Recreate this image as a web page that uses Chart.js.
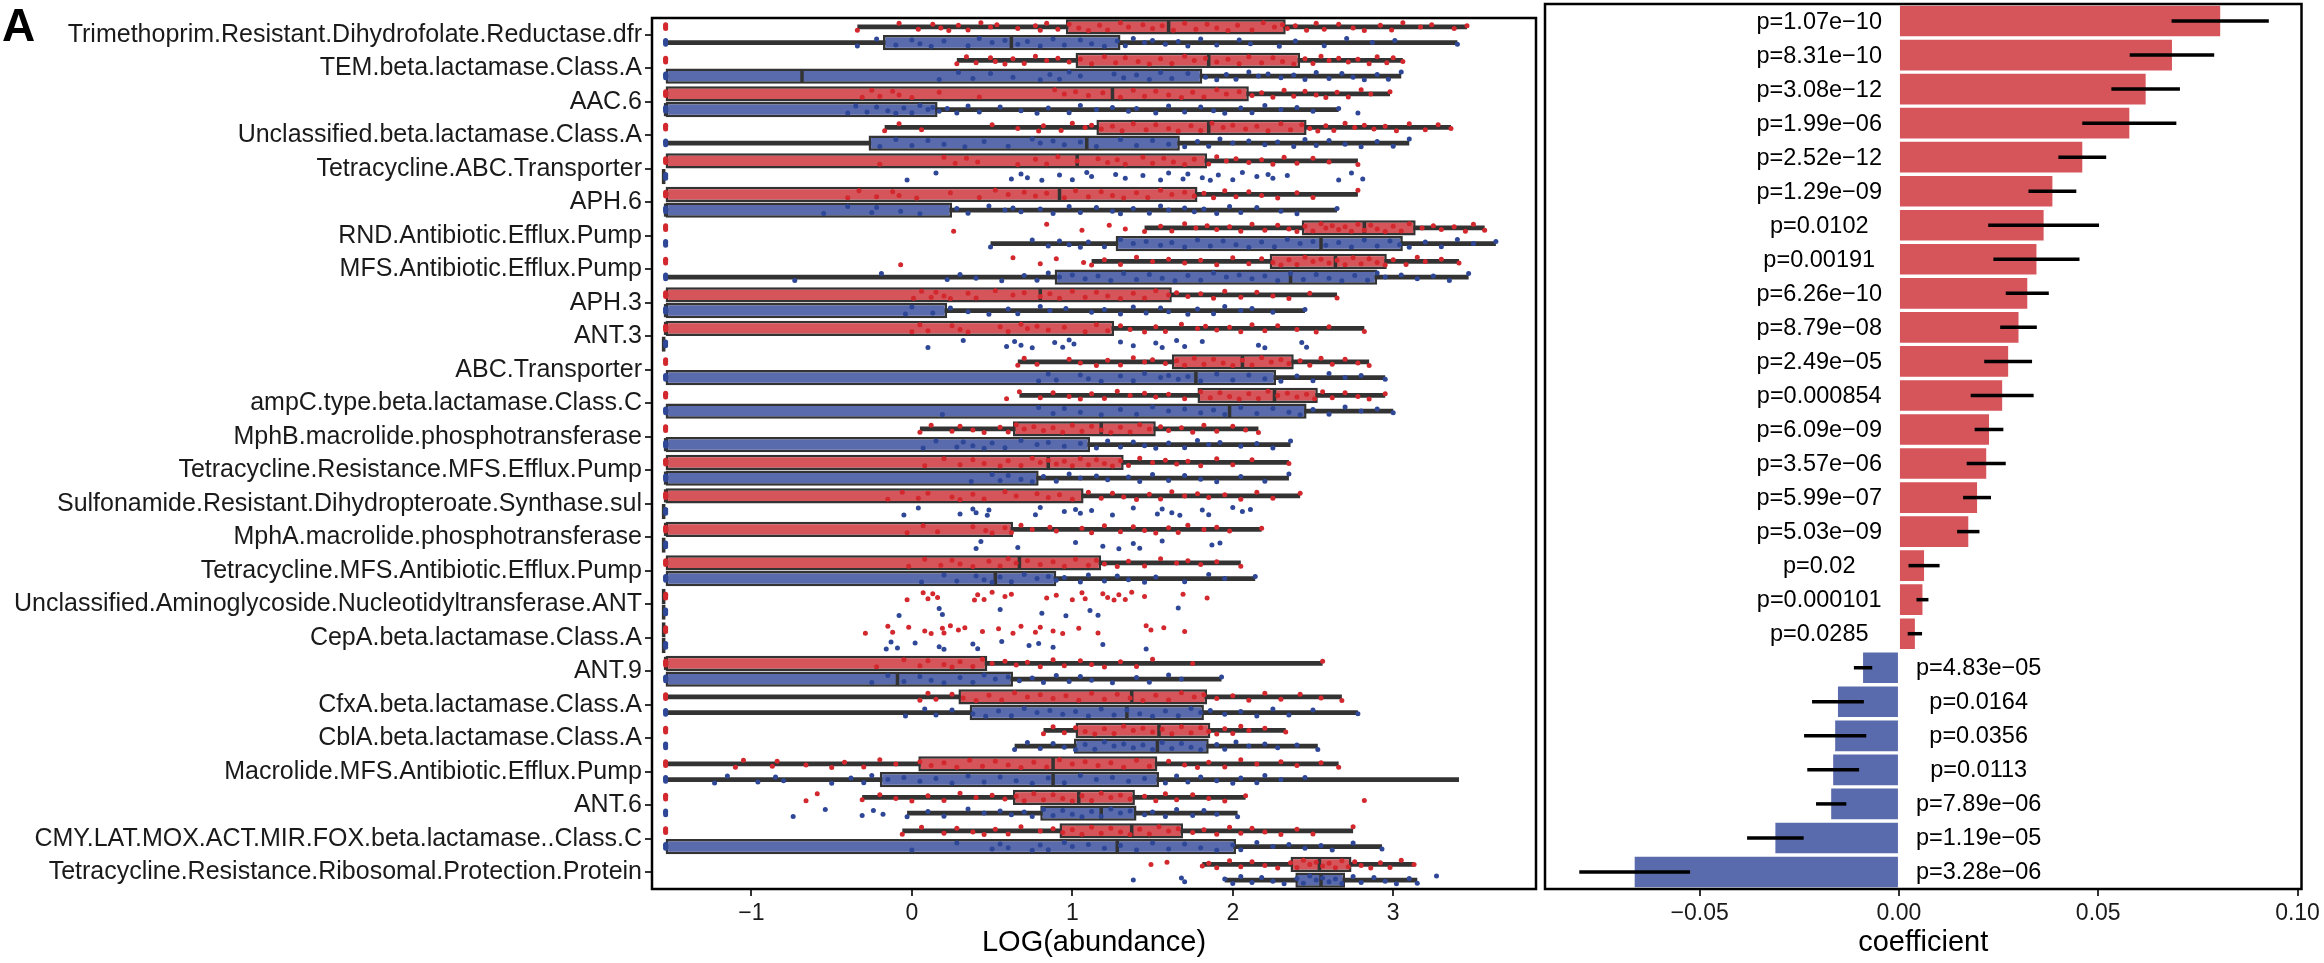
<!DOCTYPE html>
<html>
<head>
<meta charset="utf-8">
<script src="https://cdn.jsdelivr.net/npm/chart.js@4.4.1/dist/chart.umd.min.js"></script>
<style>
  html, body { margin: 0; padding: 0; background: #fff; }
  #wrap { position: relative; width: 2324px; height: 963px; overflow: hidden; }
  #boxWrap { position: absolute; left: 0; top: 0; width: 1540px; height: 963px; }
  #coefWrap { position: absolute; left: 1540px; top: 0; width: 784px; height: 963px; }
  #tag { position: absolute; left: 2px; top: -2px; font: bold 46px 'Liberation Sans', Arial, sans-serif; color: #000; }
</style>
</head>
<body>
<div id="wrap">
  <div id="boxWrap"><canvas id="boxChart"></canvas></div>
  <div id="coefWrap"><canvas id="coefChart"></canvas></div>
  <div id="tag">A</div>
</div>
<script>
// log abundance of a zero count
const Z = -1.535;

const categories = [
  'Trimethoprim.Resistant.Dihydrofolate.Reductase.dfr',
  'TEM.beta.lactamase.Class.A',
  'AAC.6',
  'Unclassified.beta.lactamase.Class.A',
  'Tetracycline.ABC.Transporter',
  'APH.6',
  'RND.Antibiotic.Efflux.Pump',
  'MFS.Antibiotic.Efflux.Pump',
  'APH.3',
  'ANT.3',
  'ABC.Transporter',
  'ampC.type.beta.lactamase.Class.C',
  'MphB.macrolide.phosphotransferase',
  'Tetracycline.Resistance.MFS.Efflux.Pump',
  'Sulfonamide.Resistant.Dihydropteroate.Synthase.sul',
  'MphA.macrolide.phosphotransferase',
  'Tetracycline.MFS.Antibiotic.Efflux.Pump',
  'Unclassified.Aminoglycoside.Nucleotidyltransferase.ANT',
  'CepA.beta.lactamase.Class.A',
  'ANT.9',
  'CfxA.beta.lactamase.Class.A',
  'CblA.beta.lactamase.Class.A',
  'Macrolide.MFS.Antibiotic.Efflux.Pump',
  'ANT.6',
  'CMY.LAT.MOX.ACT.MIR.FOX.beta.lactamase..Class.C',
  'Tetracycline.Resistance.Ribosomal.Protection.Protein'
];

// box stats: [lower whisker, q1, median, q3, upper whisker]
const redStats = [
  [-0.34, 0.96, 1.60, 2.33, 3.46], [0.28, 1.02, 1.85, 2.42, 3.06], [Z, Z, 1.25, 2.10, 2.98],
  [-0.17, 1.15, 1.85, 2.46, 3.36], [Z, Z, 1.03, 1.84, 2.78], [Z, Z, 0.92, 1.78, 2.78],
  [1.45, 2.43, 2.82, 3.14, 3.57], [1.12, 2.23, 2.64, 2.96, 3.41], [Z, Z, 0.80, 1.62, 2.65],
  [Z, Z, Z, 1.26, 2.82], [0.66, 1.62, 2.06, 2.38, 2.85], [0.67, 1.78, 2.26, 2.53, 2.95],
  [0.05, 0.63, 1.18, 1.52, 2.16], [Z, Z, 0.85, 1.32, 2.35], [Z, Z, Z, 1.07, 2.42],
  [Z, Z, Z, 0.63, 2.18], [Z, Z, 0.67, 1.18, 2.05], [Z, Z, Z, Z, Z],
  [Z, Z, Z, Z, Z], [Z, Z, Z, 0.47, 2.56], [Z, 0.29, 1.37, 1.84, 2.68],
  [0.82, 1.02, 1.54, 1.86, 2.33], [Z, 0.04, 0.88, 1.53, 2.66], [-0.31, 0.63, 1.04, 1.39, 2.08],
  [-0.06, 0.92, 1.37, 1.69, 2.75], [1.81, 2.36, 2.54, 2.74, 3.13]
];
const blueStats = [
  [Z, -0.18, 0.62, 1.30, 3.40], [Z, Z, -0.685, 1.81, 3.05], [Z, Z, Z, 0.16, 2.66],
  [Z, -0.27, 1.09, 1.67, 3.10], [Z, Z, Z, Z, Z], [Z, Z, Z, 0.25, 2.65],
  [0.49, 1.27, 2.55, 3.06, 3.64], [Z, 0.89, 2.36, 2.90, 3.47], [Z, Z, Z, 0.22, 2.45],
  [Z, Z, Z, Z, Z], [Z, Z, 1.77, 2.27, 2.95], [Z, Z, 1.98, 2.46, 3.00],
  [Z, Z, Z, 1.11, 2.36], [Z, Z, Z, 0.79, 2.35], [Z, Z, Z, Z, Z],
  [Z, Z, Z, Z, Z], [Z, Z, 0.52, 0.90, 2.14], [Z, Z, Z, Z, Z],
  [Z, Z, Z, Z, Z], [Z, Z, -0.09, 0.63, 1.93], [Z, 0.36, 1.34, 1.82, 2.78],
  [0.64, 1.01, 1.53, 1.85, 2.53], [Z, -0.20, 0.88, 1.54, 3.41], [-0.03, 0.80, 1.18, 1.40, 2.03],
  [Z, Z, 1.28, 2.02, 2.93], [1.95, 2.39, 2.55, 2.70, 3.15]
];

// individual samples, one list per gene
const redDots = [
  [Z,Z,Z,Z,-0.34,-0.08,0.04,0.13,0.18,0.23,0.29,0.35,0.43,0.49,0.53,0.66,0.77,0.8,0.84,0.91,0.98,1.04,1.1,1.17,1.22,1.3,1.35,1.44,1.5,1.56,1.63,1.7,1.77,1.84,1.9,1.97,2.03,2.12,2.19,2.26,2.31,2.34,2.39,2.46,2.52,2.57,2.66,2.75,2.82,2.92,2.99,3.06,3.17,3.24,3.38,3.46],
  [Z,Z,Z,Z,0.28,0.34,0.4,0.49,0.52,0.58,0.63,0.7,0.77,0.84,0.91,0.98,1.05,1.12,1.2,1.27,1.33,1.41,1.48,1.55,1.62,1.7,1.76,1.83,1.9,1.97,2.04,2.1,2.18,2.25,2.31,2.38,2.45,2.5,2.55,2.6,2.66,2.72,2.78,2.85,2.9,2.96,3.0,3.06],
  [Z,Z,Z,Z,-0.31,-0.25,-0.2,-0.12,-0.08,0.0,0.17,0.42,0.89,0.95,1.02,1.1,1.19,1.3,1.38,1.45,1.52,1.6,1.68,1.75,1.82,1.9,1.96,2.04,2.12,2.18,2.25,2.32,2.38,2.45,2.52,2.58,2.65,2.72,2.8,2.86,2.98],
  [Z,Z,Z,Z,-0.17,-0.08,0.06,0.5,0.66,0.79,0.82,0.93,1.0,1.08,1.12,1.18,1.25,1.31,1.38,1.46,1.52,1.6,1.66,1.74,1.8,1.87,1.94,2.0,2.08,2.15,2.22,2.3,2.36,2.43,2.48,2.53,2.58,2.63,2.7,2.76,2.82,2.88,2.95,3.02,3.1,3.2,3.28,3.36],
  [Z,Z,Z,Z,-0.2,0.2,0.27,0.34,0.41,0.66,0.77,0.84,0.91,1.03,1.16,1.22,1.28,1.33,1.44,1.5,1.57,1.63,1.7,1.76,1.85,1.9,1.96,2.02,2.1,2.18,2.25,2.32,2.4,2.5,2.6,2.78],
  [Z,Z,Z,Z,-0.4,-0.33,-0.22,-0.12,-0.08,0.03,0.24,0.42,0.52,0.6,0.7,0.77,0.84,0.95,1.02,1.1,1.18,1.25,1.32,1.4,1.47,1.55,1.62,1.7,1.76,1.82,1.88,1.95,2.02,2.1,2.18,2.28,2.4,2.5,2.78],
  [Z,Z,Z,Z,0.26,0.84,1.06,1.23,1.33,1.45,1.55,1.62,1.7,1.77,1.84,1.9,1.98,2.05,2.12,2.2,2.28,2.35,2.4,2.45,2.5,2.55,2.58,2.62,2.66,2.7,2.74,2.78,2.82,2.86,2.9,2.95,3.0,3.05,3.1,3.18,3.25,3.3,3.38,3.45,3.5,3.57],
  [Z,Z,Z,Z,-0.07,0.63,0.8,0.9,1.07,1.12,1.2,1.3,1.4,1.5,1.6,1.7,1.8,1.9,2.0,2.1,2.18,2.25,2.3,2.35,2.4,2.45,2.5,2.55,2.6,2.65,2.7,2.75,2.8,2.85,2.9,2.95,3.0,3.08,3.15,3.2,3.3,3.41],
  [Z,Z,Z,Z,0.01,0.06,0.12,0.15,0.2,0.24,0.35,0.4,0.52,0.63,0.7,0.8,0.86,0.92,1.0,1.08,1.15,1.22,1.3,1.38,1.45,1.52,1.6,1.65,1.72,1.8,1.88,1.95,2.05,2.15,2.25,2.35,2.48,2.65],
  [Z,Z,Z,Z,0.0,0.05,0.1,0.25,0.3,0.35,0.55,0.6,0.68,0.72,0.78,0.85,0.95,1.08,1.15,1.22,1.3,1.36,1.45,1.52,1.58,1.68,1.78,1.83,1.9,1.98,2.05,2.12,2.2,2.28,2.4,2.52,2.6,2.82],
  [Z,Z,Z,Z,0.66,0.7,0.78,0.98,1.05,1.15,1.22,1.3,1.38,1.45,1.5,1.58,1.65,1.7,1.76,1.82,1.88,1.94,2.0,2.06,2.12,2.18,2.24,2.3,2.35,2.42,2.48,2.55,2.62,2.7,2.78,2.85],
  [Z,Z,Z,Z,0.59,0.67,0.8,0.88,0.98,1.05,1.12,1.2,1.28,1.36,1.45,1.52,1.6,1.7,1.8,1.86,1.92,1.98,2.04,2.1,2.16,2.22,2.28,2.34,2.4,2.46,2.51,2.56,2.62,2.7,2.78,2.85,2.95],
  [Z,Z,Z,Z,0.05,0.12,0.25,0.3,0.38,0.45,0.55,0.6,0.65,0.7,0.76,0.82,0.88,0.94,1.0,1.06,1.12,1.18,1.24,1.3,1.36,1.42,1.48,1.55,1.6,1.68,1.75,1.82,1.9,2.0,2.08,2.16],
  [Z,Z,Z,Z,0.08,0.2,0.3,0.38,0.45,0.55,0.6,0.68,0.75,0.8,0.85,0.9,0.95,1.0,1.05,1.1,1.15,1.2,1.25,1.3,1.35,1.42,1.5,1.58,1.65,1.72,1.8,1.9,2.0,2.12,2.35],
  [Z,Z,Z,Z,-0.15,-0.06,0.04,0.1,0.25,0.3,0.38,0.45,0.58,0.65,0.78,0.85,0.92,1.0,1.1,1.18,1.25,1.32,1.4,1.48,1.55,1.62,1.7,1.78,1.85,1.95,2.05,2.15,2.25,2.42],
  [Z,Z,Z,Z,-0.03,0.07,0.16,0.38,0.46,0.5,0.58,0.62,0.68,0.75,0.86,0.9,1.06,1.12,1.2,1.3,1.38,1.45,1.52,1.6,1.66,1.72,1.82,1.9,1.98,2.18],
  [Z,Z,Z,Z,-0.02,0.08,0.18,0.25,0.3,0.38,0.48,0.55,0.6,0.65,0.72,0.8,0.88,0.95,1.02,1.1,1.15,1.2,1.28,1.35,1.45,1.55,1.65,1.72,1.8,1.9,2.05],
  [Z,Z,Z,Z,-0.03,0.07,0.1,0.13,0.16,0.39,0.41,0.45,0.5,0.58,0.62,0.84,0.9,1.0,1.06,1.08,1.19,1.22,1.26,1.29,1.33,1.37,1.45,1.69,1.84],
  [Z,Z,Z,Z,-0.29,-0.15,-0.12,-0.02,0.08,0.12,0.19,0.2,0.24,0.29,0.33,0.44,0.54,0.63,0.68,0.77,0.8,0.88,0.94,1.04,1.16,1.46,1.49,1.57,1.7],
  [Z,Z,Z,Z,-0.22,-0.05,0.05,0.1,0.2,0.25,0.3,0.38,0.44,0.5,0.58,0.65,0.72,0.8,0.88,0.95,1.05,1.12,1.2,1.3,1.4,1.5,1.75,2.56],
  [Z,Z,Z,Z,0.05,0.1,0.15,0.25,0.32,0.4,0.48,0.56,0.64,0.72,0.8,0.88,0.96,1.04,1.12,1.2,1.28,1.36,1.44,1.52,1.6,1.68,1.76,1.82,1.9,2.0,2.1,2.2,2.3,2.42,2.55,2.68],
  [Z,Z,Z,Z,0.82,0.88,0.95,1.02,1.08,1.14,1.2,1.26,1.32,1.38,1.44,1.5,1.56,1.62,1.68,1.74,1.8,1.85,1.9,1.95,2.0,2.05,2.1,2.2,2.33],
  [Z,Z,Z,Z,-1.1,-1.05,-0.87,-0.84,-0.66,-0.5,-0.42,-0.3,-0.2,-0.1,0.05,0.12,0.2,0.28,0.36,0.44,0.52,0.6,0.68,0.76,0.84,0.92,1.0,1.08,1.16,1.24,1.32,1.4,1.48,1.6,1.7,1.78,1.85,1.95,2.05,2.15,2.3,2.4,2.55,2.66],
  [Z,Z,Z,Z,-0.66,-0.59,-0.31,-0.2,-0.1,0.0,0.1,0.2,0.3,0.4,0.5,0.58,0.65,0.7,0.76,0.82,0.88,0.94,1.0,1.06,1.12,1.18,1.24,1.3,1.36,1.45,1.52,1.58,1.65,1.75,1.85,1.95,2.08,2.82],
  [Z,Z,Z,Z,-0.06,0.06,0.2,0.28,0.38,0.45,0.52,0.6,0.68,0.8,0.88,0.94,1.0,1.06,1.12,1.18,1.24,1.3,1.36,1.42,1.48,1.54,1.6,1.66,1.75,1.82,1.9,1.98,2.05,2.12,2.2,2.3,2.4,2.5,2.75],
  [1.49,1.59,1.81,1.85,1.9,1.98,2.05,2.12,2.2,2.28,2.36,2.4,2.44,2.48,2.52,2.56,2.6,2.64,2.68,2.72,2.76,2.8,2.86,2.92,2.98,3.05,3.13]
];
const blueDots = [
  [Z,Z,Z,Z,-0.34,-0.22,-0.1,0.0,0.05,0.12,0.2,0.35,0.42,0.5,0.58,0.66,0.72,0.8,0.88,0.95,1.05,1.12,1.2,1.28,1.33,1.38,1.45,1.5,1.58,1.66,1.72,1.8,1.9,2.04,2.11,2.29,2.39,2.57,2.71,2.87,3.01,3.4],
  [Z,Z,Z,Z,0.17,0.29,0.38,0.49,0.63,0.8,0.86,0.92,0.98,1.05,1.26,1.32,1.4,1.48,1.55,1.62,1.72,1.83,1.9,1.96,2.02,2.1,2.16,2.22,2.3,2.38,2.45,2.52,2.6,2.68,2.75,2.82,2.9,2.97,3.05],
  [Z,Z,Z,Z,-0.4,-0.35,-0.28,-0.22,-0.15,-0.1,-0.05,0.0,0.05,0.1,0.13,0.17,0.22,0.28,0.35,0.42,0.55,0.68,0.78,0.85,0.98,1.05,1.15,1.25,1.35,1.4,1.52,1.6,1.7,1.8,1.88,1.95,2.05,2.12,2.2,2.3,2.4,2.5,2.66,2.78],
  [Z,Z,Z,Z,-0.2,-0.1,0.0,0.1,0.2,0.33,0.45,0.6,0.75,0.8,0.88,0.95,1.05,1.15,1.3,1.4,1.5,1.6,1.7,1.78,1.85,1.92,2.0,2.1,2.2,2.28,2.38,2.45,2.52,2.6,2.7,2.8,2.9,3.0,3.1],
  [Z,Z,Z,Z,-0.03,0.15,0.62,0.68,0.72,0.81,0.92,1.0,1.09,1.12,1.27,1.33,1.44,1.55,1.6,1.69,1.72,1.81,1.86,1.91,2.0,2.06,2.15,2.22,2.25,2.34,2.66,2.74,2.81],
  [Z,Z,Z,Z,-0.55,-0.4,-0.25,-0.22,-0.07,0.05,0.28,0.35,0.48,0.58,0.63,0.68,0.8,0.88,0.98,1.05,1.15,1.25,1.3,1.38,1.48,1.55,1.6,1.7,1.76,1.82,1.9,1.98,2.05,2.15,2.3,2.4,2.65],
  [Z,Z,Z,Z,0.49,0.75,0.85,0.92,0.98,1.05,1.1,1.2,1.3,1.38,1.46,1.55,1.62,1.7,1.78,1.86,1.94,2.02,2.1,2.18,2.26,2.34,2.42,2.5,2.58,2.66,2.74,2.82,2.9,2.98,3.04,3.1,3.2,3.3,3.4,3.5,3.64],
  [Z,Z,Z,Z,-0.73,-0.19,0.22,0.3,0.4,0.56,0.7,0.78,0.85,0.92,1.0,1.08,1.16,1.24,1.32,1.4,1.48,1.56,1.64,1.72,1.8,1.88,1.96,2.04,2.12,2.2,2.28,2.36,2.44,2.52,2.6,2.68,2.76,2.84,2.9,2.95,3.05,3.15,3.25,3.35,3.47],
  [Z,Z,Z,Z,-0.04,0.0,0.13,0.24,0.35,0.48,0.6,0.66,0.8,0.86,0.96,1.12,1.2,1.3,1.38,1.46,1.55,1.6,1.72,1.78,1.88,1.95,2.05,2.12,2.25,2.45],
  [Z,Z,Z,Z,0.1,0.32,0.59,0.64,0.68,0.75,0.89,0.94,0.98,1.01,1.3,1.38,1.52,1.56,1.65,1.7,1.81,2.16,2.2,2.43,2.46],
  [Z,Z,Z,Z,0.79,0.85,0.9,1.05,1.1,1.18,1.3,1.38,1.45,1.55,1.6,1.66,1.72,1.8,1.9,2.0,2.1,2.2,2.3,2.4,2.5,2.6,2.7,2.8,2.95],
  [Z,Z,Z,Z,0.19,0.79,0.88,0.95,1.05,1.18,1.3,1.4,1.5,1.6,1.7,1.8,1.88,1.95,2.05,2.15,2.25,2.35,2.42,2.5,2.6,2.7,2.8,2.9,3.0],
  [Z,Z,Z,Z,0.07,0.15,0.28,0.32,0.38,0.45,0.5,0.58,0.68,0.78,0.85,0.95,1.05,1.15,1.22,1.3,1.38,1.45,1.52,1.6,1.7,1.78,1.85,1.92,2.05,2.15,2.25,2.36],
  [Z,Z,Z,Z,0.37,0.5,0.55,0.6,0.68,0.75,0.82,0.9,0.98,1.05,1.15,1.22,1.35,1.42,1.5,1.6,1.7,1.8,1.9,2.05,2.2,2.35],
  [Z,Z,Z,Z,-0.05,0.04,0.3,0.38,0.4,0.47,0.48,0.77,0.8,0.95,1.02,1.05,1.12,1.25,1.38,1.53,1.56,1.62,1.67,1.81,1.85,2.0,2.06,2.11],
  [Z,Z,Z,Z,0.4,0.43,0.66,1.02,1.19,1.29,1.38,1.42,1.56,1.87,1.92],
  [Z,Z,Z,Z,0.06,0.2,0.28,0.4,0.45,0.5,0.55,0.62,0.7,0.78,0.85,0.9,0.95,1.05,1.1,1.2,1.28,1.35,1.45,1.52,1.7,1.85,1.95,2.14],
  [Z,Z,Z,Z,-0.08,0.17,0.19,0.55,0.81,0.96,1.11,1.16,1.66],
  [Z,Z,Z,Z,-0.16,-0.13,-0.09,0.02,0.17,0.2,0.38,0.41,0.56,0.73,0.79,0.88,1.19,1.46],
  [Z,Z,Z,Z,-0.25,-0.15,-0.05,0.05,0.12,0.2,0.3,0.38,0.45,0.52,0.6,0.67,0.75,0.82,0.9,0.98,1.05,1.12,1.25,1.4,1.48,1.6,1.68,1.93],
  [Z,Z,Z,Z,-0.04,0.08,0.15,0.25,0.38,0.46,0.54,0.62,0.7,0.78,0.86,0.94,1.02,1.1,1.18,1.26,1.34,1.42,1.5,1.58,1.66,1.74,1.8,1.86,1.95,2.05,2.15,2.25,2.35,2.5,2.78],
  [Z,Z,Z,Z,0.64,0.72,0.8,0.88,0.95,1.02,1.08,1.14,1.2,1.26,1.32,1.38,1.44,1.5,1.56,1.62,1.68,1.74,1.8,1.9,1.95,2.02,2.1,2.2,2.28,2.4,2.53],
  [Z,Z,Z,Z,-1.23,-1.15,-0.96,-0.85,-0.8,-0.5,-0.38,-0.3,-0.25,-0.15,-0.05,0.05,0.15,0.25,0.35,0.45,0.55,0.65,0.75,0.85,0.95,1.05,1.15,1.25,1.35,1.45,1.58,1.65,1.72,1.8,1.9,2.0,2.05,2.15,2.2,2.3,2.45],
  [Z,Z,Z,Z,-0.74,-0.54,-0.31,-0.24,-0.18,-0.03,0.1,0.2,0.35,0.45,0.55,0.62,0.7,0.75,0.82,0.88,0.94,1.0,1.06,1.12,1.18,1.24,1.3,1.36,1.45,1.5,1.58,1.65,1.75,1.82,1.9,2.03],
  [Z,Z,Z,Z,0.0,0.28,0.5,0.55,0.6,0.75,0.8,0.85,0.95,1.0,1.1,1.2,1.3,1.4,1.5,1.6,1.7,1.8,1.9,2.0,2.05,2.15,2.25,2.35,2.45,2.55,2.62,2.75,2.93],
  [1.38,1.68,1.7,1.95,2.0,2.05,2.12,2.18,2.25,2.32,2.4,2.44,2.48,2.52,2.56,2.6,2.64,2.68,2.75,2.8,2.88,2.95,3.02,3.1,3.15,3.27]
];

const logTicks = [-1, 0, 1, 2, 3];

// regression coefficients with standard errors
const coefs = [0.0806, 0.0685, 0.0619, 0.0578, 0.0460, 0.0385, 0.0363, 0.0345, 0.0322, 0.0300,
  0.0274, 0.0259, 0.0226, 0.0219, 0.0196, 0.0174, 0.0063, 0.0059, 0.0040, -0.0090,
  -0.0153, -0.0160, -0.0165, -0.0170, -0.0310, -0.0663];
const stdErrs = [0.0122, 0.0106, 0.0086, 0.0118, 0.0060, 0.0060, 0.0139, 0.0108, 0.0054, 0.0046,
  0.0060, 0.0079, 0.0036, 0.0049, 0.0035, 0.0028, 0.0039, 0.0015, 0.0018, 0.0023,
  0.0065, 0.0078, 0.0065, 0.0038, 0.0071, 0.0139];
const pLabels = ['p=1.07e\u221210', 'p=8.31e\u221210', 'p=3.08e\u221212', 'p=1.99e\u221206', 'p=2.52e\u221212',
  'p=1.29e\u221209', 'p=0.0102', 'p=0.00191', 'p=6.26e\u221210', 'p=8.79e\u221208', 'p=2.49e\u221205',
  'p=0.000854', 'p=6.09e\u221209', 'p=3.57e\u221206', 'p=5.99e\u221207', 'p=5.03e\u221209', 'p=0.02',
  'p=0.000101', 'p=0.0285', 'p=4.83e\u221205', 'p=0.0164', 'p=0.0356', 'p=0.0113', 'p=7.89e\u221206',
  'p=1.19e\u221205', 'p=3.28e\u221206'];
const coefTicks = [-0.05, 0, 0.05, 0.10];

const FONT = "'Liberation Sans', Arial, Helvetica, sans-serif";
const RED = '#D5555A', BLUE = '#5A6BAD';
const RED_DOT = '#D2282E', BLUE_DOT = '#2F4797';
const INK = '#333333';
const BOX_GROUP = 0.94;            // share of a row taken by the red+blue pair
const DODGE = BOX_GROUP / 4;       // centre of each box relative to the row
// vertical jitter (in rows), small values first so zero counts stay compact
const jitterY = [0.0, -0.06, 0.05, -0.03, 0.1, -0.11, 0.07, -0.08, 0.03, 0.11, -0.05, 0.09, -0.12];

const minus = v => (v < 0 ? '\u2212' : '');

function dotPoints(lists, shift) {
  const pts = [];
  lists.forEach((vals, i) => {
    vals.forEach((v, k) => pts.push({ x: v, y: i + shift + jitterY[k % jitterY.length] }));
  });
  return pts;
}

const panelBorder = {
  id: 'panelBorder',
  afterDatasetsDraw(chart) {
    const { ctx, chartArea: a } = chart;
    ctx.save();
    ctx.strokeStyle = '#000';
    ctx.lineWidth = 2.5;
    ctx.strokeRect(a.left, a.top, a.right - a.left, a.bottom - a.top);
    ctx.restore();
  }
};

// median bars are drawn just before the jittered samples
const medianLines = {
  id: 'medianLines',
  beforeDatasetDraw(chart, args) {
    if (args.index !== 5) return;
    const { ctx } = chart;
    const x = chart.scales.x;
    ctx.save();
    ctx.strokeStyle = INK;
    ctx.lineWidth = 3.5;
    [[0, redStats], [1, blueStats]].forEach(([dsIndex, stats]) => {
      const meta = chart.getDatasetMeta(dsIndex);
      stats.forEach((s, i) => {
        if (s[3] <= s[1]) return;
        const { y, height } = meta.data[i].getProps(['y', 'height'], true);
        const h = Math.abs(height);
        const px = x.getPixelForValue(s[2]);
        ctx.beginPath();
        ctx.moveTo(px, y - h / 2 + 1);
        ctx.lineTo(px, y + h / 2 - 1);
        ctx.stroke();
      });
    });
    ctx.restore();
  }
};

const tickGrid = {
  display: true, drawOnChartArea: false, drawTicks: true, tickLength: 7,
  color: INK, lineWidth: 2, offset: false
};

const rowPairs = (stats, a, b) => stats.map((s, i) => ({ x: [s[a], s[b]], y: i }));

new Chart(document.getElementById('boxChart'), {
  type: 'bar',
  data: {
    datasets: [
      {
        label: 'red box', data: rowPairs(redStats, 1, 3), stack: 'red', order: 1,
        backgroundColor: RED, borderColor: INK, borderWidth: 2.5, borderSkipped: false,
        minBarLength: 4, categoryPercentage: BOX_GROUP, barPercentage: 0.96
      },
      {
        label: 'blue box', data: rowPairs(blueStats, 1, 3), stack: 'blue', order: 1,
        backgroundColor: BLUE, borderColor: INK, borderWidth: 2.5, borderSkipped: false,
        minBarLength: 4, categoryPercentage: BOX_GROUP, barPercentage: 0.96
      },
      {
        label: 'red whisker', data: rowPairs(redStats, 0, 4), stack: 'red', order: 2,
        backgroundColor: INK, borderWidth: 0, categoryPercentage: BOX_GROUP, barPercentage: 0.3
      },
      {
        label: 'blue whisker', data: rowPairs(blueStats, 0, 4), stack: 'blue', order: 2,
        backgroundColor: INK, borderWidth: 0, categoryPercentage: BOX_GROUP, barPercentage: 0.3
      },
      {
        type: 'scatter', label: 'red samples', data: dotPoints(redDots, -DODGE),
        order: 0, pointRadius: 2.5, pointBorderWidth: 0, backgroundColor: RED_DOT
      },
      {
        type: 'scatter', label: 'blue samples', data: dotPoints(blueDots, DODGE),
        order: 0, pointRadius: 2.5, pointBorderWidth: 0, backgroundColor: BLUE_DOT
      }
    ]
  },
  options: {
    indexAxis: 'y',
    responsive: true,
    maintainAspectRatio: false,
    devicePixelRatio: 1,
    animation: false,
    layout: { padding: { left: 0, right: 3, top: 4, bottom: 0 } },
    plugins: { legend: { display: false }, tooltip: { enabled: false } },
    scales: {
      x: {
        type: 'linear', position: 'bottom', min: -1.62, max: 3.89, stacked: false,
        bounds: 'data', beginAtZero: false,
        afterBuildTicks: s => { s.ticks = logTicks.map(v => ({ value: v })); },
        afterFit: s => { s.height = 74; },
        grid: tickGrid,
        border: { display: false },
        ticks: {
          font: { family: FONT, size: 23 }, color: '#1a1a1a', padding: 4,
          callback: v => minus(v) + Math.abs(v)
        },
        title: {
          display: true, text: 'LOG(abundance)', color: '#000',
          font: { family: FONT, size: 29 }, padding: { top: 0, bottom: 3 }
        }
      },
      y: {
        type: 'linear', position: 'left', min: -0.5, max: 25.5, reverse: true,
        bounds: 'data', offset: false, beginAtZero: false,
        afterBuildTicks: s => { s.ticks = categories.map((c, i) => ({ value: i })); },
        afterFit: s => { s.width = 652; },
        grid: tickGrid,
        border: { display: false },
        ticks: {
          font: { family: FONT, size: 25 }, color: '#1a1a1a', padding: 3, autoSkip: false,
          callback: v => categories[v]
        }
      }
    }
  },
  plugins: [medianLines, panelBorder]
});

// error bars and p-value labels for the coefficient panel
const coefMarks = {
  id: 'coefMarks',
  afterDatasetsDraw(chart) {
    const { ctx } = chart;
    const x = chart.scales.x, y = chart.scales.y;
    ctx.save();
    ctx.strokeStyle = '#000';
    ctx.lineWidth = 3.5;
    ctx.fillStyle = '#000';
    ctx.font = '23.5px ' + FONT;
    ctx.textAlign = 'center';
    ctx.textBaseline = 'middle';
    coefs.forEach((c, i) => {
      const py = y.getPixelForValue(i);
      ctx.beginPath();
      ctx.moveTo(x.getPixelForValue(c - stdErrs[i]), py);
      ctx.lineTo(x.getPixelForValue(c + stdErrs[i]), py);
      ctx.stroke();
      ctx.fillText(pLabels[i], x.getPixelForValue(c > 0 ? -0.02 : 0.02), py + 1);
    });
    ctx.restore();
  }
};

new Chart(document.getElementById('coefChart'), {
  type: 'bar',
  data: {
    labels: categories,
    datasets: [{
      label: 'coefficient', data: coefs,
      backgroundColor: coefs.map(c => (c > 0 ? RED : BLUE)),
      borderWidth: 0, categoryPercentage: 1.0, barPercentage: 0.9
    }]
  },
  options: {
    indexAxis: 'y',
    responsive: true,
    maintainAspectRatio: false,
    devicePixelRatio: 1,
    animation: false,
    layout: { padding: { left: 5, right: 19, top: 4, bottom: 0 } },
    plugins: { legend: { display: false }, tooltip: { enabled: false } },
    scales: {
      x: {
        type: 'linear', position: 'bottom', min: -0.0888, max: 0.101,
        afterBuildTicks: s => { s.ticks = coefTicks.map(v => ({ value: v })); },
        afterFit: s => { s.height = 74; },
        grid: tickGrid,
        border: { display: false },
        ticks: {
          font: { family: FONT, size: 23 }, color: '#1a1a1a', padding: 4,
          callback: v => minus(v) + Math.abs(v).toFixed(2)
        },
        title: {
          display: true, text: 'coefficient', color: '#000',
          font: { family: FONT, size: 29 }, padding: { top: 0, bottom: 3 }
        }
      },
      y: { type: 'category', display: false, offset: true }
    }
  },
  plugins: [coefMarks, panelBorder]
});
</script>
</body>
</html>
